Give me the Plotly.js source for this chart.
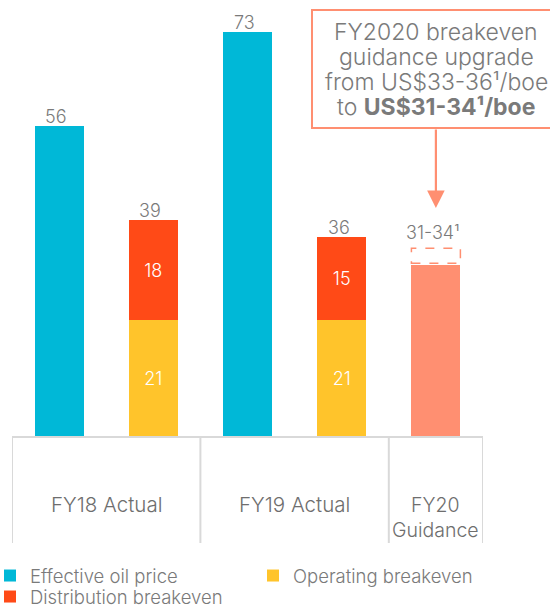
<!DOCTYPE html>
<html><head><meta charset="utf-8">
<script src="https://cdn.plot.ly/plotly-3.0.1.min.js"></script>
<style>html,body{margin:0;padding:0;background:#fff}</style>
</head><body><div id="chart" style="width:550px;height:608px"></div>
<script>
const slots = ["FY18 oil", "FY18 breakeven", "FY19 oil", "FY19 breakeven", "FY20 guidance"];
const oilPrice = [56, null, 73, null, null];
const operating = [null, 21, null, 21, null];
const distribution = [null, 18, null, 15, null];
const guidanceLow = 31;
const guidanceHigh = 34;
const totalLabels = ["56", "39", "73", "36", "31-34¹"];
const totals = [56, 39, 73, 36, 34];
const groupNames = ["FY18 Actual", "FY19 Actual", "FY20<br>Guidance"];
const groupSpans = [[0, 1], [2, 3], [4, 4]];
const calloutLines = ["FY2020 breakeven", "guidance upgrade", "from US$33-36¹/boe", "to <b>US$31-34¹/boe</b>"];

const FONT = "Inter, Lato, sans-serif";
const GRAY = "#7a7a7a";
const CYAN = "#00B8D7", YELLOW = "#FFC42B", RED = "#FF4A17", SALMON = "#FF8F71";
const BW = 0.52;
const PH = 437; // plot height px

const traces = [
  {type: "bar", name: "Effective oil price", x: slots, y: oilPrice, width: BW,
   marker: {color: CYAN}, hoverinfo: "skip", legend: "legend"},
  {type: "bar", name: "Operating breakeven", x: slots, y: operating, width: BW,
   marker: {color: YELLOW}, text: operating.map(v => v == null ? "" : String(v)),
   textposition: "inside", insidetextanchor: "middle", textangle: 0,
   textfont: {color: "#ffffff", size: 18, family: FONT, weight: 300}, hoverinfo: "skip", legend: "legend2"},
  {type: "bar", name: "Distribution breakeven", x: slots, y: distribution, width: BW,
   marker: {color: RED}, text: distribution.map(v => v == null ? "" : String(v)),
   textposition: "inside", insidetextanchor: "middle", textangle: 0,
   textfont: {color: "#ffffff", size: 18, family: FONT, weight: 300}, hoverinfo: "skip", legend: "legend3"},
  {type: "bar", name: "FY20 guidance", x: [slots[4]], y: [guidanceLow], width: BW,
   marker: {color: SALMON}, showlegend: false, hoverinfo: "skip"}
];

const annotations = totalLabels.map((t, i) => ({
  x: i, xref: "x", y: totals[i], yref: "y", text: t, showarrow: false,
  yanchor: "bottom", xshift: -3, yshift: i === 4 ? 3 : -3,
  font: {family: FONT, size: 18, color: GRAY, weight: 300}
}));

groupNames.forEach((g, i) => {
  const c = (groupSpans[i][0] + groupSpans[i][1]) / 2;
  annotations.push({
    x: c, xref: "x", y: i === 2 ? -(517 - PH) / PH : -(504 - PH) / PH, yref: "paper",
    text: g, showarrow: false, yanchor: "middle", xanchor: "center",
    font: {family: FONT, size: i === 2 ? 19.5 : 20.5, color: "#6e6e6e", weight: 300}
  });
});

calloutLines.forEach((t, i) => {
  annotations.push({
    x: (436 - 12) / 471, xref: "paper", y: 1 - (32 + 25 * i) / PH, yref: "paper",
    xanchor: "center", yanchor: "middle", text: t, showarrow: false,
    font: {family: FONT, size: 23, color: GRAY, weight: 300}
  });
});

annotations.push({
  x: 4, xref: "x", y: 1.0 - 208 / PH, yref: "paper",
  ax: 0, ay: -80, axref: "pixel", ayref: "pixel",
  text: "", showarrow: true, arrowhead: 2, arrowsize: 1.6, arrowwidth: 2.2,
  arrowcolor: SALMON
});

const LINE = {color: "#d9d9d9", width: 2};
const boxBottom = -(543 - PH) / PH;
const shapes = [
  {type: "line", xref: "x", yref: "paper", x0: -0.5, x1: 4.5, y0: 0, y1: 0, line: LINE},
  {type: "line", xref: "x", yref: "paper", x0: -0.5, x1: -0.5, y0: 0, y1: boxBottom, line: LINE},
  {type: "line", xref: "x", yref: "paper", x0: 1.5, x1: 1.5, y0: 0, y1: boxBottom, line: LINE},
  {type: "line", xref: "x", yref: "paper", x0: 3.5, x1: 3.5, y0: 0, y1: boxBottom, line: LINE},
  {type: "line", xref: "x", yref: "paper", x0: 4.5, x1: 4.5, y0: 0, y1: boxBottom, line: LINE},
  {type: "rect", xref: "x", yref: "y", x0: 4 - BW / 2, x1: 4 + BW / 2,
   y0: guidanceLow + 0.3, y1: guidanceHigh, line: {color: SALMON, width: 1.5, dash: "dash"},
   fillcolor: "rgba(0,0,0,0)"},
  {type: "rect", xref: "paper", yref: "paper", x0: (312 - 12) / 471, x1: (551 - 12) / 471,
   y0: 1 - 10 / PH, y1: 1 - 128 / PH, line: {color: SALMON, width: 2}, fillcolor: "#ffffff", layer: "below"}
];

const legendFont = {family: FONT, size: 18.5, color: GRAY, weight: 300};
function legendAt(px, py) {
  return {orientation: "v", x: (px - 12) / 471, xanchor: "left", y: -(py - PH) / PH, yanchor: "top",
          font: legendFont, traceorder: "normal", itemclick: false, itemdoubleclick: false,
          tracegroupgap: 0, bgcolor: "rgba(0,0,0,0)"};
}
const layout = {
  width: 550, height: 608,
  margin: {l: 12, r: 67, t: 0, b: 171, autoexpand: false},
  paper_bgcolor: "#ffffff", plot_bgcolor: "rgba(0,0,0,0)",
  barmode: "stack",
  font: {family: FONT, color: GRAY},
  xaxis: {type: "category", range: [-0.5, 4.5], showticklabels: false, showgrid: false,
          zeroline: false, showline: false, ticks: "", fixedrange: true},
  yaxis: {range: [0, 78.7], visible: false, showgrid: false, zeroline: false, fixedrange: true},
  showlegend: true,
  legend: legendAt(-10, 557),
  legend2: legendAt(253, 557),
  legend3: legendAt(-10, 578),
  annotations: annotations,
  shapes: shapes
};

Plotly.newPlot("chart", traces, layout, {displayModeBar: false, staticPlot: true});
</script></body></html>
